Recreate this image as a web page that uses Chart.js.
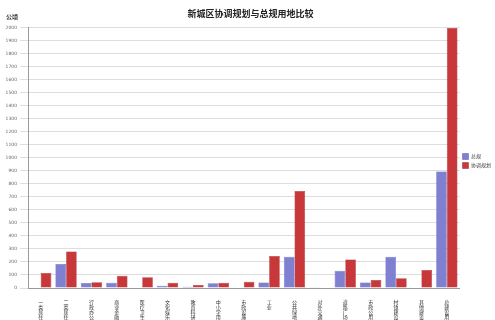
<!DOCTYPE html>
<html>
<head>
<meta charset="utf-8">
<script src="https://cdn.jsdelivr.net/npm/chart.js@4/dist/chart.umd.min.js"></script>
<style>
  html, body { margin: 0; padding: 0; background: #fff; }
  #wrap { position: relative; width: 495px; height: 320px; }
</style>
</head>
<body>
<div id="wrap"><canvas id="landChart"></canvas></div>
<script>
// land use categories (x axis)
const categories = [
    '一类居住用地', '二类居住用地', '行政办公用地', '商业金融用地', '医疗卫生用地',
    '文化娱乐用地', '教育科研用地', '中小学用地', '市政设施用地', '工业',
    '公共绿地', '对外交通用地', '道路广场用地', '市政公用设施', '村镇建设用地',
    '其他建设用地', '总建设用地'
];
// hectares
const zongGui = [0, 185, 38, 41, 0, 18, 10, 36, 0, 43, 241, 6, 133, 43, 241, 0, 895];
const xieTiao = [115, 280, 45, 95, 82, 40, 23, 40, 49, 246, 746, 3, 220, 61, 74, 138, 2000];
const yTicks = [0, 2000, 100];

const ctx = document.getElementById('landChart');

// "公顷" unit label above the y axis
const unitLabel = {
    id: 'unitLabel',
    afterDraw(chart) {
        const c = chart.ctx;
        c.save();
        c.font = 'bold 6px "Noto Sans CJK SC"';
        c.fillStyle = '#333';
        c.textAlign = 'left';
        c.textBaseline = 'middle';
        c.fillText('公顷', 6, 17);
        c.restore();
    }
};

new Chart(ctx, {
    type: 'bar',
    data: {
        // stack characters so the labels read top to bottom
        labels: categories.map(s => s.split('')),
        datasets: [
            {
                label: '总规',
                data: zongGui,
                backgroundColor: '#7f80d2',
                borderColor: '#5a5cab',
                borderWidth: 0.5
            },
            {
                label: '协调规划',
                data: xieTiao,
                backgroundColor: '#c8383b',
                borderColor: '#9a2427',
                borderWidth: 0.5
            }
        ]
    },
    options: {
        responsive: true,
        maintainAspectRatio: false,
        animation: false,
        layout: { padding: { top: 2, right: -6, left: 0, bottom: 0 } },
        plugins: {
            title: {
                display: true,
                text: '新城区协调规划与总规用地比较',
                font: { size: 9, weight: 'bold', family: '"Noto Sans CJK SC"' },
                color: '#222',
                padding: { top: 6, bottom: 9 }
            },
            legend: {
                position: 'right',
                labels: {
                    font: { size: 5, family: '"Noto Sans CJK SC"' },
                    color: '#444',
                    boxWidth: 6,
                    boxHeight: 6,
                    padding: 3
                }
            },
            tooltip: { enabled: false }
        },
        scales: {
            x: {
                grid: { display: false },
                border: { color: '#999' },
                ticks: {
                    autoSkip: false,
                    maxRotation: 0,
                    minRotation: 0,
                    padding: 3,
                    color: '#333',
                    font: { size: 5, family: '"Noto Sans CJK SC"', lineHeight: 1.05 }
                },
                afterFit: function(scale) { scale.height = 32; }
            },
            y: {
                min: yTicks[0],
                max: yTicks[1],
                grid: { color: '#d4d4d4', lineWidth: 0.8 },
                border: { color: '#999' },
                ticks: {
                    stepSize: yTicks[2],
                    color: '#666',
                    font: { size: 4.5, family: '"DejaVu Sans"' },
                    padding: 3,
                    callback: function(value) { return String(value); }
                },
                afterFit: function(scale) { scale.width = 28; }
            }
        },
        datasets: {
            bar: { categoryPercentage: 0.84, barPercentage: 1.0 }
        }
    },
    plugins: [unitLabel]
});
</script>
</body>
</html>
